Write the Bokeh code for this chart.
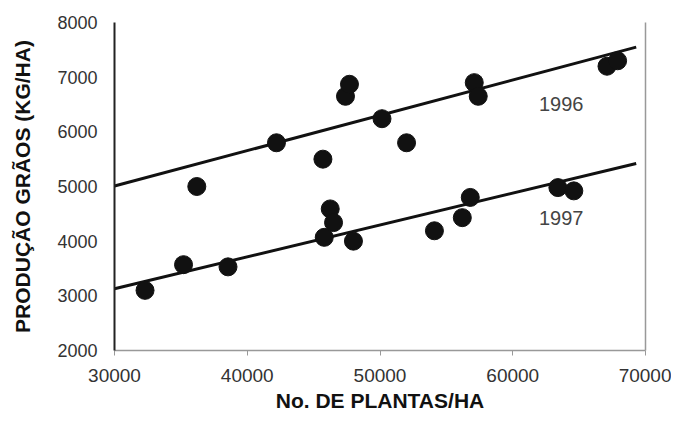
from bokeh.plotting import figure
from bokeh.models import Range1d, FixedTicker, BasicTickFormatter, LinearAxis, ColumnDataSource
from bokeh.core.properties import value
from bokeh.embed import file_html
from bokeh.resources import INLINE

# --- data ---
plants_1996 = [36200, 42200, 45700, 47400, 47700, 50150, 52000, 57100, 57400, 67100, 67900]
yield_1996 = [5000, 5800, 5500, 6650, 6870, 6240, 5800, 6900, 6650, 7200, 7300]

plants_1997 = [32300, 35200, 38550, 45800, 46250, 46500, 48000, 54100, 56200, 56800, 63400, 64600]
yield_1997 = [3100, 3570, 3530, 4070, 4590, 4340, 4000, 4190, 4430, 4800, 4980, 4920]

trend_x = [30000, 69300]
trend_1996 = [5010, 7550]
trend_1997 = [3130, 5420]

series_labels = ["1996", "1997"]
x_ticks = [30000, 40000, 50000, 60000, 70000]
y_ticks = [2000, 3000, 4000, 5000, 6000, 7000, 8000]

FONT = "Liberation Sans"

p = figure(width=671, height=414, output_backend="svg", toolbar_location=None,
           x_range=Range1d(30000, 70000), y_range=Range1d(2000, 8000),
           min_border_left=114, min_border_right=26, min_border_top=22, min_border_bottom=62)

p.background_fill_color = "white"
p.border_fill_color = "white"
p.outline_line_color = None
p.grid.visible = False

# x axis
xa = p.xaxis[0]
xa.ticker = FixedTicker(ticks=x_ticks)
xa.formatter = BasicTickFormatter(use_scientific=False)
xa.axis_line_color = "#999999"
xa.axis_line_width = 1.5
xa.major_tick_line_color = "#999999"
xa.major_tick_out = 5
xa.major_tick_in = 0
xa.minor_tick_line_color = None
xa.major_label_text_font = FONT
xa.major_label_text_font_size = "19px"
xa.major_label_text_color = "#333333"
xa.major_label_standoff = 13
xa.axis_label = "No. DE PLANTAS/HA"
xa.axis_label_text_font = FONT
xa.axis_label_text_font_style = "bold"
xa.axis_label_text_font_size = "21px"
xa.axis_label_text_color = "#111111"
xa.axis_label_standoff = 4

# y axis
ya = p.yaxis[0]
ya.ticker = FixedTicker(ticks=y_ticks)
ya.formatter = BasicTickFormatter(use_scientific=False)
ya.axis_line_color = "#222222"
ya.axis_line_width = 2
ya.major_tick_line_color = None
ya.major_tick_out = 0
ya.major_tick_in = 0
ya.minor_tick_line_color = None
ya.major_label_text_font = FONT
ya.major_label_text_font_size = "18px"
ya.major_label_text_color = "#333333"
ya.major_label_standoff = 17
ya.axis_label = "PRODUÇÃO GRÃOS (KG/HA)"
ya.axis_label_text_font = FONT
ya.axis_label_text_font_style = "bold"
ya.axis_label_text_font_size = "21px"
ya.axis_label_text_color = "#111111"
ya.axis_label_standoff = 20

# right border line
ra = LinearAxis(ticker=FixedTicker(ticks=[]), axis_line_color="#999999", axis_line_width=1.5,
                major_tick_line_color=None, minor_tick_line_color=None,
                major_label_text_font_size="0px", major_tick_out=0, major_label_standoff=0)
p.add_layout(ra, "right")

# trend lines
p.line(trend_x, trend_1996, line_color="#111111", line_width=3)
p.line(trend_x, trend_1997, line_color="#111111", line_width=3)

# points
p.scatter(plants_1996, yield_1996, size=18, fill_color="#111111", line_color="#111111")
p.scatter(plants_1997, yield_1997, size=18, fill_color="#111111", line_color="#111111")

# series labels
src = ColumnDataSource(dict(x=[63650, 63650], y=[6510, 4430], t=series_labels))
p.text(x="x", y="y", text="t", source=src, text_font=value(FONT), text_font_size="20px",
       text_color="#444444", text_align="center", text_baseline="middle")

open("out.html", "w").write(file_html(p, INLINE))
